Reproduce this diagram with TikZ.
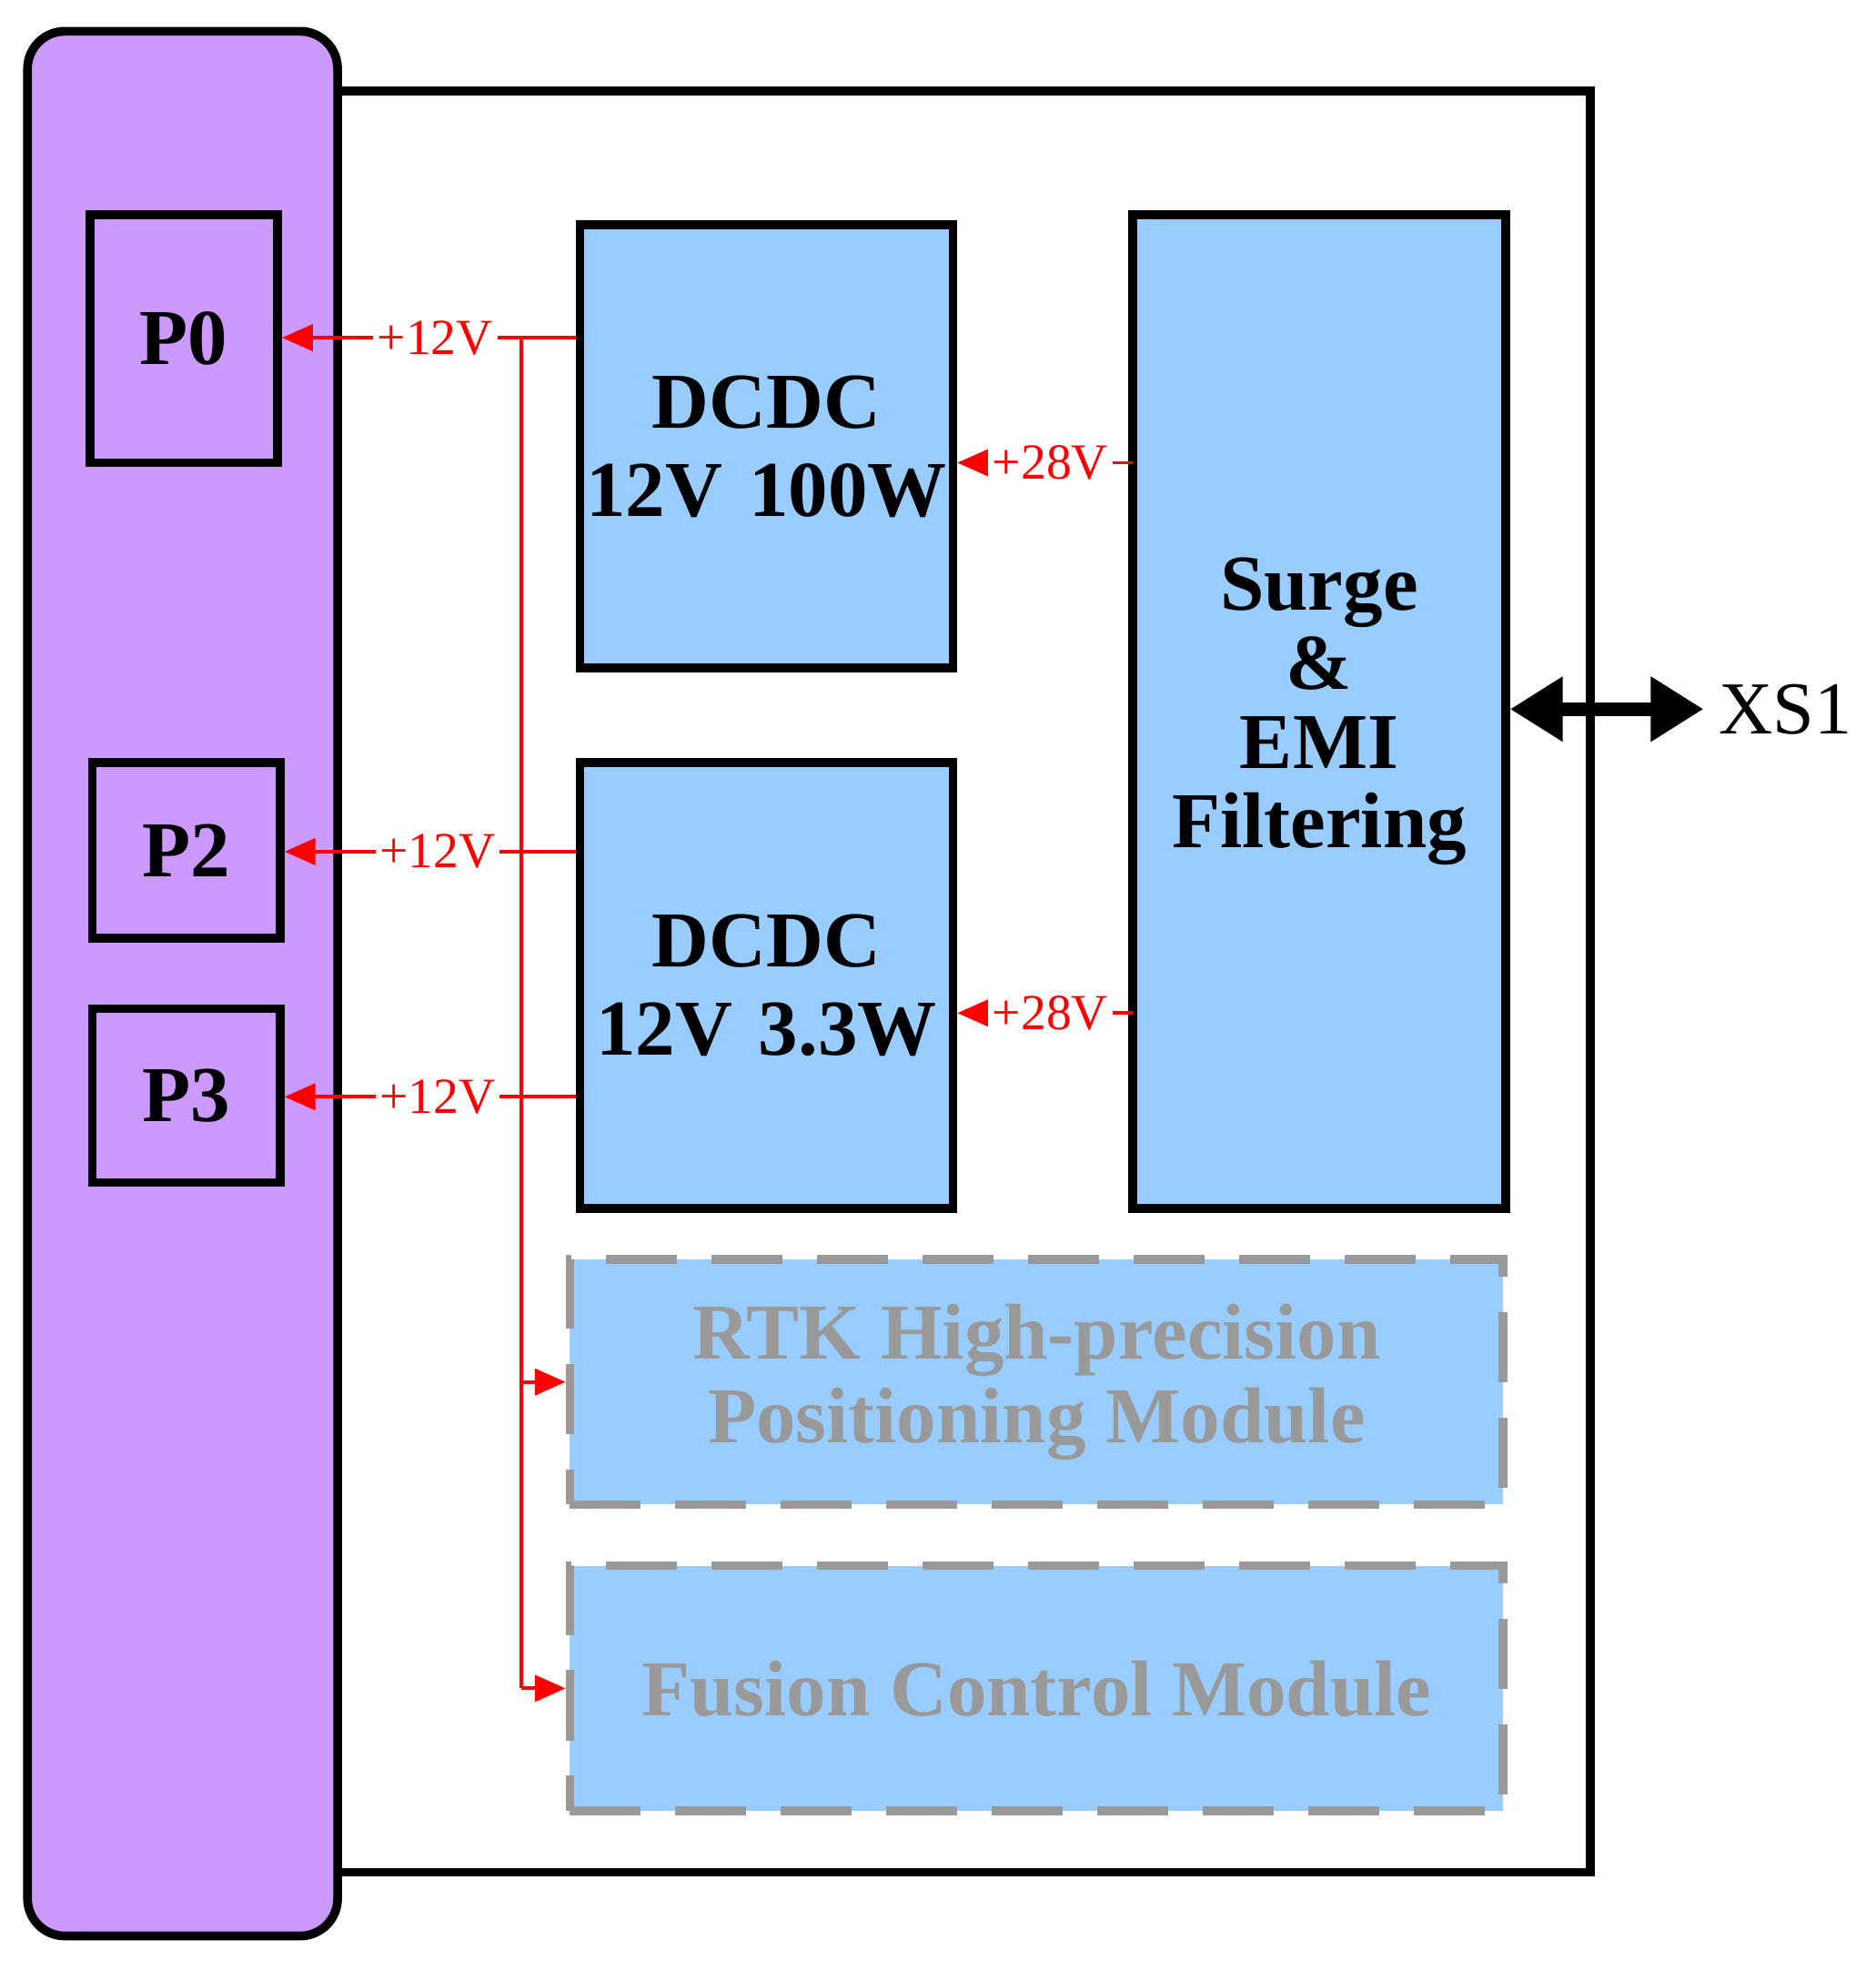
\documentclass[tikz,border=0pt]{standalone}
\usepackage{fontspec}
\setmainfont{Liberation Serif}
\usetikzlibrary{arrows.meta}
\definecolor{purp}{HTML}{CC99FF}
\definecolor{blu}{HTML}{99CCFF}
\definecolor{gr}{HTML}{999999}
\begin{document}
\begin{tikzpicture}[x=0.01cm,y=-0.01cm,
 box/.style={draw,line width=2pt,fill=blu,inner sep=0pt,font=\fontsize{18}{20}\selectfont\bfseries,align=center},
 pbox/.style={draw,line width=2pt,fill=purp,font=\fontsize{18}{20}\selectfont\bfseries},
 dbox/.style={draw=gr,line width=2pt,dash pattern=on 16pt off 8pt,fill=blu,text=gr,font=\fontsize{18}{19}\selectfont\bfseries,align=center},
 rl/.style={red,line width=0.8pt},
 ra/.style={rl,-{Triangle[length=7pt,width=6pt]}},
 lab/.style={red,fill=white,inner sep=1pt,font=\fontsize{11.5}{13}\selectfont}]
\useasboundingbox (0,0) rectangle (1500,1576);
\draw[line width=2pt] (270,73) rectangle (1272,1497);
\draw[line width=2pt,fill=purp,rounded corners=0.3cm] (22,25) rectangle (270,1548);
\node[pbox,minimum width=1.5cm,minimum height=1.98cm] (p0) at (147,271) {P0};
\node[pbox,minimum width=1.5cm,minimum height=1.4cm] (p2) at (149,680) {P2};
\node[pbox,minimum width=1.5cm,minimum height=1.39cm] (p3) at (149,876) {P3};
\node[box,text width=2.98cm,minimum height=3.54cm] (d1) at (613,357) {DCDC\\12V 100W};
\node[box,text width=2.98cm,minimum height=3.56cm] (d2) at (613,788) {DCDC\\12V 3.3W};
\node[box,text width=2.98cm,minimum height=7.94cm,font=\fontsize{18}{18}\selectfont\bfseries] (sf) at (1055,569) {Surge\\\&\\EMI\\Filtering};
\node[dbox,minimum width=7.46cm,minimum height=1.96cm] (rtk) at (829,1105) {RTK High-precision\\Positioning Module};
\node[dbox,minimum width=7.46cm,minimum height=1.96cm] (fc) at (829,1350) {Fusion Control Module};
% red lines
\coordinate (b0) at (417,270);
\coordinate (bf) at (417,1350);
\draw[rl] (d1.west|-b0) -- (b0) -- (bf);
\draw[ra] (b0) -- (p0.east|-b0);
\node[lab] at (348,270) {+12V};
\coordinate (b2) at (417,681);
\draw[rl] (d2.west|-b2) -- (b2);
\draw[ra] (b2) -- (p2.east|-b2);
\node[lab] at (350,681) {+12V};
\coordinate (b3) at (417,877);
\draw[rl] (d2.west|-b3) -- (b3);
\draw[ra] (b3) -- (p3.east|-b3);
\node[lab] at (350,877) {+12V};
\coordinate (b4) at (417,1105);
\draw[ra] (b4) -- (rtk.west|-b4);
\draw[ra] (bf) -- (fc.west);
\coordinate (c1) at (906,370);
\draw[ra] (c1) -- (d1.east|-c1);
\node[lab] at (840,370) {+28V};
\coordinate (c2) at (906,810);
\draw[ra] (c2) -- (d2.east|-c2);
\node[lab] at (840,810) {+28V};
\node[font=\fontsize{17}{19}\selectfont] (xs) at (1428,567) {XS1};
\draw[line width=3pt,{Triangle[length=12pt,width=14pt]}-{Triangle[length=12pt,width=14pt]}] (sf.east|-xs) -- (xs.west);
\end{tikzpicture}
\end{document}
